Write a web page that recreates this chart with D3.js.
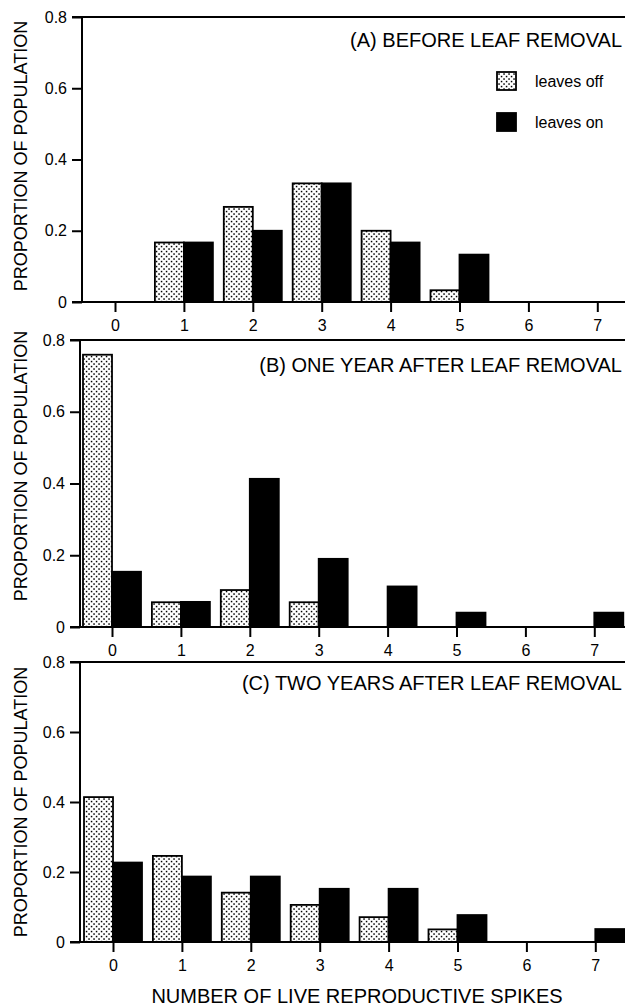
<!DOCTYPE html>
<meta charset="utf-8">
<style>
body { margin: 0; background: #fff; }
text { font-family: "Liberation Sans", Arial, sans-serif; fill: #000; }
</style>
<body>
<div id="chart"></div>
<script src="https://d3js.org/d3.v7.min.js"></script>
<script>

// number of live reproductive spikes
var spikes = [0, 1, 2, 3, 4, 5, 6, 7];
var yTicks = [0, 0.2, 0.4, 0.6, 0.8];
var seriesNames = ['leaves off', 'leaves on'];
var panelTitles = ['(A) BEFORE LEAF REMOVAL', '(B) ONE YEAR AFTER LEAF REMOVAL', '(C) TWO YEARS AFTER LEAF REMOVAL'];

// proportions
var offBefore = [0, 0.167, 0.267, 0.333, 0.2, 0.033, 0, 0];
var onBefore  = [0, 0.167, 0.2, 0.333, 0.167, 0.133, 0, 0];
var offYear1  = [0.759, 0.069, 0.103, 0.069, 0, 0, 0, 0];
var onYear1   = [0.154, 0.07, 0.413, 0.19, 0.113, 0.04, 0, 0.04];
var offYear2  = [0.414, 0.246, 0.141, 0.106, 0.071, 0.036, 0, 0];
var onYear2   = [0.227, 0.187, 0.187, 0.152, 0.152, 0.077, 0, 0.037];

var W = 625, H = 1006;

var svg = d3.select('#chart').append('svg')
  .attr('width', W)
  .attr('height', H);

// stippled fill for "leaves off"
var defs = svg.append('defs');
var pat = defs.append('pattern')
  .attr('id', 'dots')
  .attr('patternUnits', 'userSpaceOnUse')
  .attr('width', 5)
  .attr('height', 5);
pat.append('rect').attr('width', 5).attr('height', 5).attr('fill', '#fff');
pat.append('rect').attr('x', 0.8).attr('y', 0.8).attr('width', 1.5).attr('height', 1.5).attr('fill', '#000');
pat.append('rect').attr('x', 3.3).attr('y', 3.3).attr('width', 1.5).attr('height', 1.5).attr('fill', '#000');

// panel frames (pixel layout)
var panels = [
  {title: panelTitles[0], off: offBefore, on: onBefore, top: 17, bottom: 302, axisX: 82, x0: 115, titleY: 47, ytitle: 156, legend: true},
  {title: panelTitles[1], off: offYear1, on: onYear1, top: 340, bottom: 627, axisX: 80, x0: 112, titleY: 372, ytitle: 466, legend: false},
  {title: panelTitles[2], off: offYear2, on: onYear2, top: 662, bottom: 942, axisX: 80, x0: 113, titleY: 690, ytitle: 802, legend: false}
];

var step = 68.9, barW = 29;

panels.forEach(function(p){
  var g = svg.append('g');

  var x = d3.scaleLinear().domain([0, 7]).range([p.x0, p.x0 + 7 * step]);
  var y = d3.scaleLinear().domain([0, 0.8]).range([p.bottom, p.top]);

  var rows = spikes.map(function(s, i){ return {s: s, off: p.off[i], on: p.on[i]}; });

  g.selectAll('rect.off').data(rows.filter(function(d){ return d.off > 0; }))
    .enter().append('rect')
    .attr('class', 'off')
    .attr('x', function(d){ return x(d.s) - barW; })
    .attr('y', function(d){ return y(d.off); })
    .attr('width', barW)
    .attr('height', function(d){ return y(0) - y(d.off); })
    .attr('fill', 'url(#dots)')
    .attr('stroke', '#000')
    .attr('stroke-width', 1.8);

  g.selectAll('rect.on').data(rows.filter(function(d){ return d.on > 0; }))
    .enter().append('rect')
    .attr('class', 'on')
    .attr('x', function(d){ return x(d.s); })
    .attr('y', function(d){ return y(d.on); })
    .attr('width', barW)
    .attr('height', function(d){ return y(0) - y(d.on); })
    .attr('fill', '#000')
    .attr('stroke', '#000')
    .attr('stroke-width', 1.8);

  // axes
  var xAxis = g.append('g')
    .attr('transform', 'translate(0,' + p.bottom + ')')
    .call(d3.axisBottom(x).tickValues(spikes).tickSize(10).tickSizeOuter(0).tickPadding(8)
      .tickFormat(d3.format('d')));
  var yAxis = g.append('g')
    .attr('transform', 'translate(' + p.axisX + ',0)')
    .call(d3.axisLeft(y).tickValues(yTicks).tickSize(10).tickSizeOuter(0).tickPadding(5)
      .tickFormat(function(d){ return d === 0 ? '0' : d3.format('.1f')(d); }));

  [xAxis, yAxis].forEach(function(a){
    a.select('.domain').remove();
    a.selectAll('line').attr('stroke', '#000').attr('stroke-width', 2);
    a.selectAll('text').style('font-size', '16px').attr('font-family', null);
  });

  // frame lines: left, top, baseline
  g.append('line').attr('x1', p.axisX).attr('x2', p.axisX).attr('y1', y(0.8)).attr('y2', y(0))
    .attr('stroke', '#000').attr('stroke-width', 2);
  g.append('line').attr('x1', p.axisX - 10).attr('x2', W).attr('y1', y(0.8)).attr('y2', y(0.8))
    .attr('stroke', '#000').attr('stroke-width', 2);
  g.append('line').attr('x1', p.axisX - 10).attr('x2', W).attr('y1', y(0)).attr('y2', y(0))
    .attr('stroke', '#000').attr('stroke-width', 2.2);

  // titles
  g.append('text')
    .attr('x', 622).attr('y', p.titleY)
    .attr('text-anchor', 'end')
    .style('font-size', '20px')
    .text(p.title);

  g.append('text')
    .attr('transform', 'translate(27,' + p.ytitle + ') rotate(-90)')
    .attr('text-anchor', 'middle')
    .style('font-size', '18px')
    .text('PROPORTION OF POPULATION');

  if (p.legend) {
    var leg = g.append('g');
    seriesNames.forEach(function(name, i){
      leg.append('rect')
        .attr('x', 497).attr('y', 72 + i * 41)
        .attr('width', 19).attr('height', 18)
        .attr('fill', i === 0 ? 'url(#dots)' : '#000')
        .attr('stroke', '#000').attr('stroke-width', 1.8);
      leg.append('text')
        .attr('x', 535).attr('y', 87 + i * 41)
        .style('font-size', '16px')
        .text(name);
    });
  }
});

svg.append('text')
  .attr('x', 357).attr('y', 1003)
  .attr('text-anchor', 'middle')
  .style('font-size', '20px')
  .text('NUMBER OF LIVE REPRODUCTIVE SPIKES');

</script>
</body>
